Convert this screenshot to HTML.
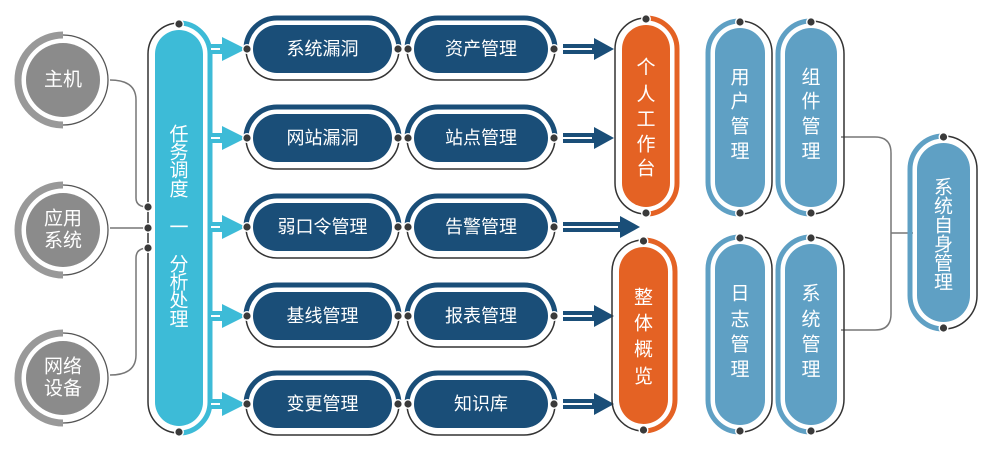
<!DOCTYPE html>
<html><head><meta charset="utf-8"><style>
html,body{margin:0;padding:0;background:#fff;}
svg{display:block;}
text{font-family:"Liberation Sans","Noto Sans CJK SC",sans-serif;fill:#fff;text-anchor:middle;dominant-baseline:central;}
</style></head><body>
<svg id="s" width="986" height="455" viewBox="0 0 986 455" xmlns="http://www.w3.org/2000/svg"></svg>
<script>
var s=document.getElementById('s'),o='';
var CY='#3dbbd7',DB='#1a4e78',OR='#e46224',LB='#5fa0c4',GR='#8b8b8b',DK='#333';
function dot(x,y){o+='<circle cx="'+x+'" cy="'+y+'" r="5" fill="#fff"/><circle cx="'+x+'" cy="'+y+'" r="3.6" fill="#3a3a3a"/>';}
function hpill(x1,x2,cy,h,col,txt){var r=h/2,q=7,R=r+q;
o+='<rect x="'+x1+'" y="'+(cy-r)+'" width="'+(x2-x1)+'" height="'+h+'" rx="'+r+'" fill="'+col+'"/>';
o+='<path d="M'+(x1-q)+','+cy+' A'+R+','+R+' 0 0 1 '+(x1+r)+','+(cy-R)+' L'+(x2-r)+','+(cy-R)+' A'+R+','+R+' 0 0 1 '+(x2+q)+','+cy+'" fill="none" stroke="'+col+'" stroke-width="5"/>';
o+='<path d="M'+(x1-q)+','+cy+' A'+R+','+R+' 0 0 0 '+(x1+r)+','+(cy+R)+' L'+(x2-r)+','+(cy+R)+' A'+R+','+R+' 0 0 0 '+(x2+q)+','+cy+'" fill="none" stroke="'+DK+'" stroke-width="1.5"/>';
dot(x1-q+1,cy);dot(x2+q-1,cy);
o+='<text x="'+((x1+x2)/2)+'" y="'+cy+'" font-size="18">'+txt+'</text>';}
function vpill(x1,x2,y1,y2,col,thick,chars,ys,fs){var w=x2-x1,r=w/2,q=7,R=r+q,cx=(x1+x2)/2;
o+='<rect x="'+x1+'" y="'+y1+'" width="'+w+'" height="'+(y2-y1)+'" rx="'+r+'" fill="'+col+'"/>';
var L='M'+cx+','+(y1-q)+' A'+R+','+R+' 0 0 0 '+(cx-R)+','+(y1+r)+' L'+(cx-R)+','+(y2-r)+' A'+R+','+R+' 0 0 0 '+cx+','+(y2+q);
var Rt='M'+cx+','+(y1-q)+' A'+R+','+R+' 0 0 1 '+(cx+R)+','+(y1+r)+' L'+(cx+R)+','+(y2-r)+' A'+R+','+R+' 0 0 1 '+cx+','+(y2+q);
o+='<path d="'+(thick=='L'?L:Rt)+'" fill="none" stroke="'+col+'" stroke-width="5"/>';
o+='<path d="'+(thick=='L'?Rt:L)+'" fill="none" stroke="'+DK+'" stroke-width="1.5"/>';
dot(cx,y1-q+1);dot(cx,y2+q-1);
for(var i=0;i<chars.length;i++)o+='<text x="'+cx+'" y="'+ys[i]+'" font-size="'+(fs||18)+'">'+chars[i]+'</text>';}
function circ(cx,cy,lines){
o+='<path d="M'+cx+','+(cy-45)+' A45,45 0 0 0 '+cx+','+(cy+45)+'" fill="none" stroke="#999" stroke-width="7"/>';
o+='<path d="M'+cx+','+(cy-45)+' A45,45 0 0 1 '+cx+','+(cy+45)+'" fill="none" stroke="#555" stroke-width="1.3"/>';
o+='<circle cx="'+cx+'" cy="'+cy+'" r="37" fill="'+GR+'"/>';
if(lines.length==1)o+='<text x="'+cx+'" y="'+cy+'" font-size="19">'+lines[0]+'</text>';
else{o+='<text x="'+cx+'" y="'+(cy-11)+'" font-size="19">'+lines[0]+'</text><text x="'+cx+'" y="'+(cy+11)+'" font-size="19">'+lines[1]+'</text>';}}
function arrow(a,b,cy,col,hw,hl){
o+='<rect x="'+a+'" y="'+(cy-5)+'" width="'+(b-hl-a+1)+'" height="10" fill="'+col+'"/>';
o+='<rect x="'+a+'" y="'+(cy-1)+'" width="'+(b-hl-a-2)+'" height="2" fill="#fff"/>';
o+='<polygon points="'+(b-hl)+','+(cy-hw)+' '+b+','+cy+' '+(b-hl)+','+(cy+hw)+'" fill="'+col+'"/>';}
// connectors left
o+='<g fill="none" stroke="#777" stroke-width="1.5">';
o+='<path d="M110,80 Q136,80 136,100 L136,198 Q136,207 148,207"/>';
o+='<path d="M110,228 L148,228"/>';
o+='<path d="M110,375 Q136,375 136,355 L136,258 Q136,248 148,248"/>';
o+='<path d="M841,137 L875,137 Q891,137 891,153 L891,314 Q891,330 875,330 L841,330"/><path d="M891,233 L913,233"/>';
o+='</g>';
circ(63,80,['主机']);circ(63,230,['应用','系统']);circ(63,378,['网络','设备']);
// tall cyan
vpill(155,203,30,426,CY,'R',['任','务','调','度','一','分','析','处','理'],[135,153,171,190,228,265,283,301,320],19);
dot(148,207);dot(148,228);dot(148,248);
var rows=[49,138,227,316,404];
var c1=['系统漏洞','网站漏洞','弱口令管理','基线管理','变更管理'];
var c2=['资产管理','站点管理','告警管理','报表管理','知识库'];
for(var i=0;i<5;i++){var y=rows[i];
arrow(211,246,y,CY,12,24);
hpill(253,392,y,48,DB,c1[i]);hpill(414,548,y,48,DB,c2[i]);
arrow(563,i==2?640:614,y,DB,11,20);}
vpill(622,670,25,207,OR,'R',['个','人','工','作','台'],[68,95,120,145,169],19);
vpill(619,668,247,424,OR,'R',['整','体','概','览'],[298,324,350,377],19);
vpill(715,765,28,207,LB,'L',['用','户','管','理'],[78,102,127,152],19);
vpill(785,837,28,207,LB,'L',['组','件','管','理'],[78,102,127,152],19);
vpill(715,765,244,425,LB,'L',['日','志','管','理'],[294,320,345,370],19);
vpill(785,837,244,425,LB,'L',['系','统','管','理'],[294,320,345,370],19);
vpill(917,970,143,322,LB,'L',['系','统','自','身','管','理'],[188,207,226,245,264,283],19);
s.innerHTML=o;
</script>
</body></html>
